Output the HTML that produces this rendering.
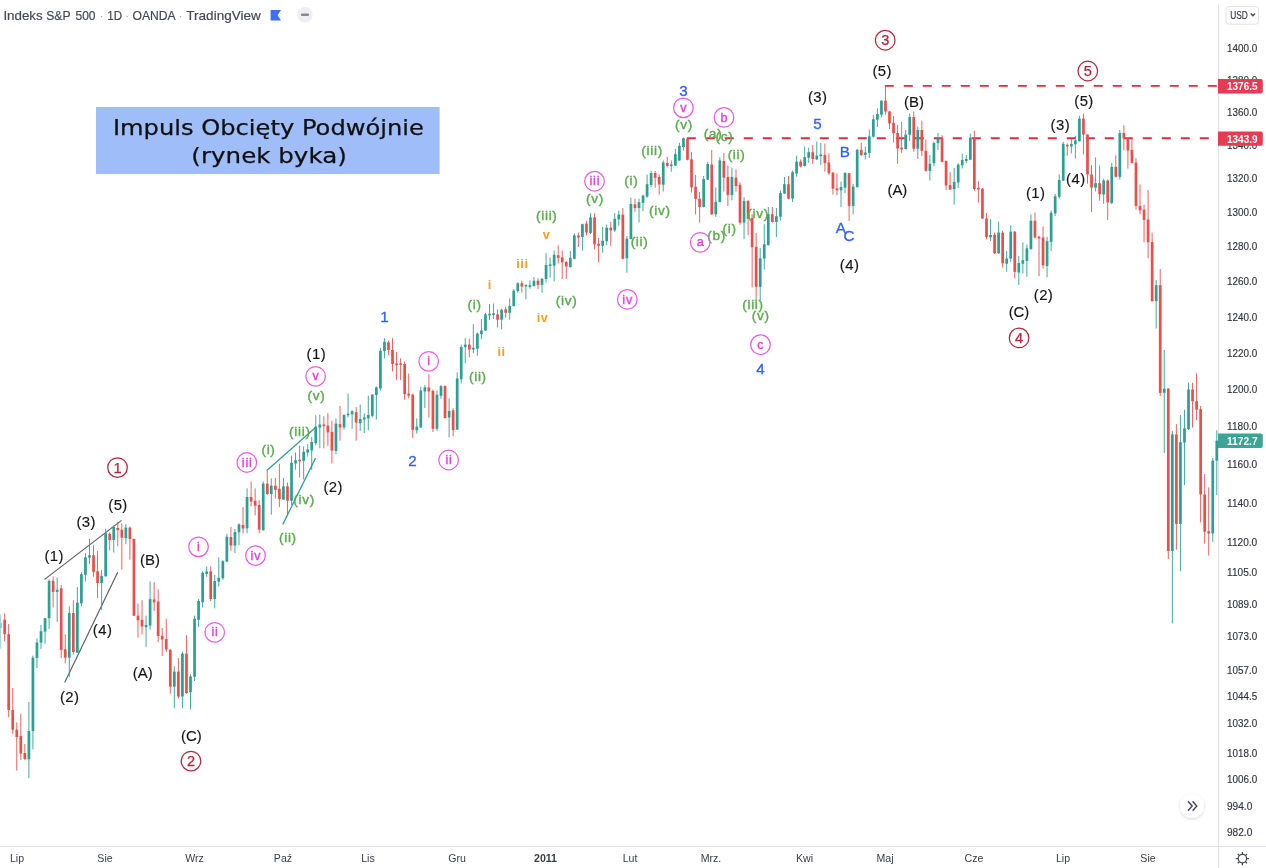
<!DOCTYPE html>
<html lang="pl"><head><meta charset="utf-8"><title>Indeks S&amp;P 500 · 1D · OANDA · TradingView</title>
<style>
html,body{margin:0;padding:0;background:#fff;}
body{width:1266px;height:868px;overflow:hidden;font-family:"Liberation Sans",sans-serif;}
svg{display:block;}
text{font-family:"Liberation Sans",sans-serif;}
.ax{font-size:11px;fill:#30333e;stroke:#30333e;stroke-width:.15px;}
.bk{font-size:14.9px;fill:#151515;stroke:#151515;stroke-width:.15px;text-anchor:middle;}
.gr{font-size:13.6px;fill:#5aab4d;stroke:#5aab4d;stroke-width:.4px;text-anchor:middle;letter-spacing:.7px;}
.mg{font-size:12.6px;fill:#e043dc;stroke:#e043dc;stroke-width:.4px;text-anchor:middle;letter-spacing:.8px;}
.dr{font-size:14.6px;fill:#b0263a;stroke:#b0263a;stroke-width:.25px;text-anchor:middle;}
.bl{font-size:15.2px;fill:#2f62ff;stroke:#2f62ff;stroke-width:.3px;text-anchor:middle;}
.or{font-size:12.8px;fill:#f79e25;font-weight:bold;text-anchor:middle;letter-spacing:.5px;}
.hd{font-size:13.5px;fill:#454854;stroke:#454854;stroke-width:.2px;}
.tm{font-size:10.6px;fill:#3a3d48;text-anchor:middle;}
.tt{font-family:"DejaVu Sans","Liberation Sans",sans-serif;font-size:22px;fill:#101010;stroke:#101010;stroke-width:.25px;text-anchor:middle;}
.pl{font-size:11px;fill:#fff;font-weight:bold;stroke:none;}
</style></head><body>
<svg width="1266" height="868" viewBox="0 0 1266 868">
<rect width="1266" height="868" fill="#fff"/>
<rect x="96" y="107" width="343.6" height="67" fill="#9fbdf9"/>
<text class="tt" x="268.4" y="134.6" textLength="311" lengthAdjust="spacingAndGlyphs">Impuls Obcięty Podwójnie</text>
<text class="tt" x="269.1" y="163.4" textLength="155.5" lengthAdjust="spacingAndGlyphs">(rynek byka)</text>
<g stroke="#5a5d68" stroke-width="1.15" fill="none"><path d="M44.6 579.4L121.5 520.4"/><path d="M64.7 682.4L117.7 572.2"/></g>
<g stroke="#2f9e90" stroke-width="1.25" fill="none"><path d="M266.8 470.5L316.1 427"/><path d="M282.8 524.4L315.5 458.1"/></g>
<g stroke="#e22b43" stroke-width="1.9" fill="none" stroke-dasharray="9 10"><path d="M686.8 138.3H1218"/><path d="M884.8 85.9H1218"/></g>
<g>
<g opacity="0.5">
<path d="M0.60 614.5V648.7" stroke="#2a9f92" stroke-width="1" opacity="0.88"/><rect x="-0.75" y="622.8" width="2.7" height="5.2" fill="#2a9f92"/>
</g>
<path d="M4.64 613.5V641.5" stroke="#ea4e4b" stroke-width="1" opacity="0.88"/><rect x="3.29" y="619.7" width="2.7" height="14.5" fill="#ea4e4b"/>
<path d="M8.68 623.9V717.2" stroke="#ea4e4b" stroke-width="1" opacity="0.88"/><rect x="7.33" y="634.2" width="2.7" height="75.8" fill="#ea4e4b"/>
<path d="M12.72 688.0V733.8" stroke="#ea4e4b" stroke-width="1" opacity="0.88"/><rect x="11.37" y="710.0" width="2.7" height="19.7" fill="#ea4e4b"/>
<path d="M16.76 722.4V770.5" stroke="#ea4e4b" stroke-width="1" opacity="0.88"/><rect x="15.41" y="729.7" width="2.7" height="7.3" fill="#ea4e4b"/>
<path d="M20.80 713.7V760.0" stroke="#ea4e4b" stroke-width="1" opacity="0.88"/><rect x="19.45" y="735.9" width="2.7" height="17.6" fill="#ea4e4b"/>
<path d="M24.84 744.0V760.0" stroke="#ea4e4b" stroke-width="1" opacity="0.88"/><rect x="23.49" y="753.0" width="2.7" height="6.0" fill="#ea4e4b"/>
<path d="M28.88 702.0V778.0" stroke="#2a9f92" stroke-width="1" opacity="0.88"/><rect x="27.53" y="731.0" width="2.7" height="28.3" fill="#2a9f92"/>
<path d="M32.92 655.6V749.4" stroke="#2a9f92" stroke-width="1" opacity="0.88"/><rect x="31.57" y="657.7" width="2.7" height="73.3" fill="#2a9f92"/>
<path d="M36.96 638.4V668.0" stroke="#2a9f92" stroke-width="1" opacity="0.88"/><rect x="35.61" y="642.5" width="2.7" height="15.5" fill="#2a9f92"/>
<path d="M41.01 625.0V648.9" stroke="#2a9f92" stroke-width="1" opacity="0.88"/><rect x="39.66" y="631.2" width="2.7" height="11.4" fill="#2a9f92"/>
<path d="M45.05 617.8V643.7" stroke="#2a9f92" stroke-width="1" opacity="0.88"/><rect x="43.70" y="618.2" width="2.7" height="13.5" fill="#2a9f92"/>
<path d="M49.09 579.4V629.2" stroke="#2a9f92" stroke-width="1" opacity="0.88"/><rect x="47.74" y="580.9" width="2.7" height="37.3" fill="#2a9f92"/>
<path d="M53.13 576.7V607.4" stroke="#ea4e4b" stroke-width="1" opacity="0.88"/><rect x="51.78" y="580.9" width="2.7" height="11.0" fill="#ea4e4b"/>
<path d="M57.17 577.4V621.9" stroke="#2a9f92" stroke-width="1" opacity="0.88"/><rect x="55.82" y="589.8" width="2.7" height="2.1" fill="#2a9f92"/>
<path d="M61.21 585.0V658.2" stroke="#ea4e4b" stroke-width="1" opacity="0.88"/><rect x="59.86" y="588.3" width="2.7" height="61.6" fill="#ea4e4b"/>
<path d="M65.25 634.4V663.4" stroke="#ea4e4b" stroke-width="1" opacity="0.88"/><rect x="63.90" y="649.3" width="2.7" height="8.3" fill="#ea4e4b"/>
<path d="M69.29 606.4V676.8" stroke="#2a9f92" stroke-width="1" opacity="0.88"/><rect x="67.94" y="613.0" width="2.7" height="44.6" fill="#2a9f92"/>
<path d="M73.33 600.2V654.5" stroke="#ea4e4b" stroke-width="1" opacity="0.88"/><rect x="71.98" y="613.0" width="2.7" height="39.0" fill="#ea4e4b"/>
<path d="M77.37 587.1V653.0" stroke="#2a9f92" stroke-width="1" opacity="0.88"/><rect x="76.02" y="602.6" width="2.7" height="50.0" fill="#2a9f92"/>
<path d="M81.41 572.2V606.4" stroke="#2a9f92" stroke-width="1" opacity="0.88"/><rect x="80.06" y="574.2" width="2.7" height="29.1" fill="#2a9f92"/>
<path d="M85.45 553.1V581.5" stroke="#2a9f92" stroke-width="1" opacity="0.88"/><rect x="84.10" y="557.3" width="2.7" height="17.4" fill="#2a9f92"/>
<path d="M89.49 538.6V563.9" stroke="#2a9f92" stroke-width="1" opacity="0.88"/><rect x="88.14" y="555.2" width="2.7" height="2.5" fill="#2a9f92"/>
<path d="M93.53 545.2V576.7" stroke="#ea4e4b" stroke-width="1" opacity="0.88"/><rect x="92.18" y="555.2" width="2.7" height="16.6" fill="#ea4e4b"/>
<path d="M97.57 551.0V598.1" stroke="#ea4e4b" stroke-width="1" opacity="0.88"/><rect x="96.22" y="571.3" width="2.7" height="11.7" fill="#ea4e4b"/>
<path d="M101.61 570.1V609.9" stroke="#2a9f92" stroke-width="1" opacity="0.88"/><rect x="100.26" y="575.9" width="2.7" height="7.1" fill="#2a9f92"/>
<path d="M105.65 528.7V576.5" stroke="#2a9f92" stroke-width="1" opacity="0.88"/><rect x="104.30" y="533.2" width="2.7" height="43.1" fill="#2a9f92"/>
<path d="M109.69 532.4V550.4" stroke="#ea4e4b" stroke-width="1" opacity="0.88"/><rect x="108.34" y="533.8" width="2.7" height="6.2" fill="#ea4e4b"/>
<path d="M113.73 525.5V552.5" stroke="#2a9f92" stroke-width="1" opacity="0.88"/><rect x="112.38" y="527.0" width="2.7" height="13.0" fill="#2a9f92"/>
<path d="M117.77 522.0V546.3" stroke="#ea4e4b" stroke-width="1" opacity="0.88"/><rect x="116.42" y="528.0" width="2.7" height="2.1" fill="#ea4e4b"/>
<path d="M121.81 523.5V569.7" stroke="#ea4e4b" stroke-width="1" opacity="0.88"/><rect x="120.46" y="529.7" width="2.7" height="7.9" fill="#ea4e4b"/>
<path d="M125.86 524.1V544.2" stroke="#2a9f92" stroke-width="1" opacity="0.88"/><rect x="124.51" y="527.6" width="2.7" height="10.4" fill="#2a9f92"/>
<path d="M129.90 526.6V559.7" stroke="#ea4e4b" stroke-width="1" opacity="0.88"/><rect x="128.55" y="527.6" width="2.7" height="11.4" fill="#ea4e4b"/>
<path d="M133.94 538.6V616.0" stroke="#ea4e4b" stroke-width="1" opacity="0.88"/><rect x="132.59" y="539.0" width="2.7" height="76.7" fill="#ea4e4b"/>
<path d="M137.98 603.7V637.5" stroke="#ea4e4b" stroke-width="1" opacity="0.88"/><rect x="136.63" y="615.7" width="2.7" height="4.6" fill="#ea4e4b"/>
<path d="M142.02 600.2V634.4" stroke="#ea4e4b" stroke-width="1" opacity="0.88"/><rect x="140.67" y="619.8" width="2.7" height="6.7" fill="#ea4e4b"/>
<path d="M146.06 615.7V646.8" stroke="#2a9f92" stroke-width="1" opacity="0.88"/><rect x="144.71" y="625.0" width="2.7" height="2.1" fill="#2a9f92"/>
<path d="M150.10 581.5V629.8" stroke="#2a9f92" stroke-width="1" opacity="0.88"/><rect x="148.75" y="599.1" width="2.7" height="26.5" fill="#2a9f92"/>
<path d="M154.14 582.1V610.9" stroke="#ea4e4b" stroke-width="1" opacity="0.88"/><rect x="152.79" y="599.4" width="2.7" height="3.0" fill="#ea4e4b"/>
<path d="M158.18 589.3V642.0" stroke="#ea4e4b" stroke-width="1" opacity="0.88"/><rect x="156.83" y="601.5" width="2.7" height="34.5" fill="#ea4e4b"/>
<path d="M162.22 628.0V656.0" stroke="#ea4e4b" stroke-width="1" opacity="0.88"/><rect x="160.87" y="635.8" width="2.7" height="3.7" fill="#ea4e4b"/>
<path d="M166.26 618.8V652.0" stroke="#ea4e4b" stroke-width="1" opacity="0.88"/><rect x="164.91" y="639.0" width="2.7" height="10.4" fill="#ea4e4b"/>
<path d="M170.30 649.0V693.8" stroke="#ea4e4b" stroke-width="1" opacity="0.88"/><rect x="168.95" y="649.8" width="2.7" height="36.9" fill="#ea4e4b"/>
<path d="M174.34 666.4V708.3" stroke="#2a9f92" stroke-width="1" opacity="0.88"/><rect x="172.99" y="671.6" width="2.7" height="15.1" fill="#2a9f92"/>
<path d="M178.38 658.0V698.5" stroke="#ea4e4b" stroke-width="1" opacity="0.88"/><rect x="177.03" y="671.6" width="2.7" height="24.9" fill="#ea4e4b"/>
<path d="M182.42 651.5V708.3" stroke="#2a9f92" stroke-width="1" opacity="0.88"/><rect x="181.07" y="653.6" width="2.7" height="42.9" fill="#2a9f92"/>
<path d="M186.46 635.3V694.0" stroke="#ea4e4b" stroke-width="1" opacity="0.88"/><rect x="185.11" y="653.6" width="2.7" height="39.4" fill="#ea4e4b"/>
<path d="M190.50 674.3V709.5" stroke="#2a9f92" stroke-width="1" opacity="0.88"/><rect x="189.15" y="676.4" width="2.7" height="15.9" fill="#2a9f92"/>
<path d="M194.54 615.6V681.0" stroke="#2a9f92" stroke-width="1" opacity="0.88"/><rect x="193.19" y="618.8" width="2.7" height="58.0" fill="#2a9f92"/>
<path d="M198.58 599.0V627.0" stroke="#2a9f92" stroke-width="1" opacity="0.88"/><rect x="197.23" y="601.0" width="2.7" height="18.8" fill="#2a9f92"/>
<path d="M202.62 571.0V607.4" stroke="#2a9f92" stroke-width="1" opacity="0.88"/><rect x="201.27" y="572.7" width="2.7" height="29.5" fill="#2a9f92"/>
<path d="M206.67 566.5V576.8" stroke="#2a9f92" stroke-width="1" opacity="0.88"/><rect x="205.32" y="571.4" width="2.7" height="2.5" fill="#2a9f92"/>
<path d="M210.71 566.3V601.0" stroke="#ea4e4b" stroke-width="1" opacity="0.88"/><rect x="209.36" y="571.4" width="2.7" height="27.6" fill="#ea4e4b"/>
<path d="M214.75 575.0V608.4" stroke="#2a9f92" stroke-width="1" opacity="0.88"/><rect x="213.40" y="581.0" width="2.7" height="18.0" fill="#2a9f92"/>
<path d="M218.79 557.3V586.6" stroke="#2a9f92" stroke-width="1" opacity="0.88"/><rect x="217.44" y="577.8" width="2.7" height="3.8" fill="#2a9f92"/>
<path d="M222.83 560.2V580.0" stroke="#2a9f92" stroke-width="1" opacity="0.88"/><rect x="221.48" y="561.2" width="2.7" height="17.0" fill="#2a9f92"/>
<path d="M226.87 533.6V562.0" stroke="#2a9f92" stroke-width="1" opacity="0.88"/><rect x="225.52" y="536.7" width="2.7" height="24.9" fill="#2a9f92"/>
<path d="M230.91 527.0V550.8" stroke="#ea4e4b" stroke-width="1" opacity="0.88"/><rect x="229.56" y="537.0" width="2.7" height="8.5" fill="#ea4e4b"/>
<path d="M234.95 528.9V553.1" stroke="#2a9f92" stroke-width="1" opacity="0.88"/><rect x="233.60" y="532.0" width="2.7" height="13.6" fill="#2a9f92"/>
<path d="M238.99 523.3V545.1" stroke="#2a9f92" stroke-width="1" opacity="0.88"/><rect x="237.64" y="524.4" width="2.7" height="7.9" fill="#2a9f92"/>
<path d="M243.03 507.0V533.4" stroke="#ea4e4b" stroke-width="1" opacity="0.88"/><rect x="241.68" y="525.0" width="2.7" height="3.5" fill="#ea4e4b"/>
<path d="M247.07 488.3V533.3" stroke="#2a9f92" stroke-width="1" opacity="0.88"/><rect x="245.72" y="497.0" width="2.7" height="31.4" fill="#2a9f92"/>
<path d="M251.11 481.5V506.4" stroke="#ea4e4b" stroke-width="1" opacity="0.88"/><rect x="249.76" y="497.0" width="2.7" height="4.6" fill="#ea4e4b"/>
<path d="M255.15 488.3V515.3" stroke="#ea4e4b" stroke-width="1" opacity="0.88"/><rect x="253.80" y="500.8" width="2.7" height="5.0" fill="#ea4e4b"/>
<path d="M259.19 500.2V533.4" stroke="#ea4e4b" stroke-width="1" opacity="0.88"/><rect x="257.84" y="505.0" width="2.7" height="24.6" fill="#ea4e4b"/>
<path d="M263.23 481.5V531.0" stroke="#2a9f92" stroke-width="1" opacity="0.88"/><rect x="261.88" y="483.6" width="2.7" height="46.4" fill="#2a9f92"/>
<path d="M267.27 470.5V495.0" stroke="#ea4e4b" stroke-width="1" opacity="0.88"/><rect x="265.92" y="483.6" width="2.7" height="10.4" fill="#ea4e4b"/>
<path d="M271.31 478.4V514.7" stroke="#2a9f92" stroke-width="1" opacity="0.88"/><rect x="269.96" y="485.6" width="2.7" height="8.4" fill="#2a9f92"/>
<path d="M275.35 478.0V498.7" stroke="#ea4e4b" stroke-width="1" opacity="0.88"/><rect x="274.00" y="485.6" width="2.7" height="4.2" fill="#ea4e4b"/>
<path d="M279.39 463.9V507.0" stroke="#ea4e4b" stroke-width="1" opacity="0.88"/><rect x="278.04" y="488.8" width="2.7" height="10.2" fill="#ea4e4b"/>
<path d="M283.44 478.0V500.0" stroke="#2a9f92" stroke-width="1" opacity="0.88"/><rect x="282.08" y="486.3" width="2.7" height="13.2" fill="#2a9f92"/>
<path d="M287.48 482.5V515.7" stroke="#ea4e4b" stroke-width="1" opacity="0.88"/><rect x="286.13" y="486.3" width="2.7" height="14.5" fill="#ea4e4b"/>
<path d="M291.52 455.6V505.0" stroke="#2a9f92" stroke-width="1" opacity="0.88"/><rect x="290.17" y="462.8" width="2.7" height="38.0" fill="#2a9f92"/>
<path d="M295.56 452.5V469.7" stroke="#2a9f92" stroke-width="1" opacity="0.88"/><rect x="294.21" y="460.2" width="2.7" height="3.3" fill="#2a9f92"/>
<path d="M299.60 445.6V477.4" stroke="#ea4e4b" stroke-width="1" opacity="0.88"/><rect x="298.25" y="459.7" width="2.7" height="1.7" fill="#ea4e4b"/>
<path d="M303.64 446.3V479.4" stroke="#2a9f92" stroke-width="1" opacity="0.88"/><rect x="302.29" y="451.9" width="2.7" height="8.9" fill="#2a9f92"/>
<path d="M307.68 444.2V456.6" stroke="#2a9f92" stroke-width="1" opacity="0.88"/><rect x="306.33" y="449.4" width="2.7" height="3.1" fill="#2a9f92"/>
<path d="M311.72 437.0V470.0" stroke="#2a9f92" stroke-width="1" opacity="0.88"/><rect x="310.37" y="442.0" width="2.7" height="8.4" fill="#2a9f92"/>
<path d="M315.76 415.2V445.2" stroke="#2a9f92" stroke-width="1" opacity="0.88"/><rect x="314.41" y="426.6" width="2.7" height="16.6" fill="#2a9f92"/>
<path d="M319.80 414.6V448.3" stroke="#2a9f92" stroke-width="1" opacity="0.88"/><rect x="318.45" y="424.5" width="2.7" height="3.1" fill="#2a9f92"/>
<path d="M323.84 416.2V448.3" stroke="#ea4e4b" stroke-width="1" opacity="0.88"/><rect x="322.49" y="424.5" width="2.7" height="1.7" fill="#ea4e4b"/>
<path d="M327.88 413.2V445.8" stroke="#ea4e4b" stroke-width="1" opacity="0.88"/><rect x="326.53" y="425.6" width="2.7" height="6.7" fill="#ea4e4b"/>
<path d="M331.92 420.5V463.6" stroke="#ea4e4b" stroke-width="1" opacity="0.88"/><rect x="330.57" y="431.9" width="2.7" height="18.6" fill="#ea4e4b"/>
<path d="M335.96 418.4V454.3" stroke="#2a9f92" stroke-width="1" opacity="0.88"/><rect x="334.61" y="423.6" width="2.7" height="27.4" fill="#2a9f92"/>
<path d="M340.00 406.0V440.6" stroke="#ea4e4b" stroke-width="1" opacity="0.88"/><rect x="338.65" y="424.2" width="2.7" height="3.2" fill="#ea4e4b"/>
<path d="M344.04 414.3V429.8" stroke="#2a9f92" stroke-width="1" opacity="0.88"/><rect x="342.69" y="415.0" width="2.7" height="12.4" fill="#2a9f92"/>
<path d="M348.08 393.6V417.4" stroke="#2a9f92" stroke-width="1" opacity="0.88"/><rect x="346.73" y="413.7" width="2.7" height="1.6" fill="#2a9f92"/>
<path d="M352.12 410.2V428.8" stroke="#2a9f92" stroke-width="1" opacity="0.88"/><rect x="350.77" y="411.2" width="2.7" height="3.1" fill="#2a9f92"/>
<path d="M356.16 407.0V440.6" stroke="#ea4e4b" stroke-width="1" opacity="0.88"/><rect x="354.81" y="412.2" width="2.7" height="10.4" fill="#ea4e4b"/>
<path d="M360.20 404.6V430.9" stroke="#2a9f92" stroke-width="1" opacity="0.88"/><rect x="358.85" y="419.0" width="2.7" height="4.2" fill="#2a9f92"/>
<path d="M364.25 413.3V433.0" stroke="#2a9f92" stroke-width="1" opacity="0.88"/><rect x="362.89" y="417.4" width="2.7" height="2.1" fill="#2a9f92"/>
<path d="M368.29 395.6V430.3" stroke="#2a9f92" stroke-width="1" opacity="0.88"/><rect x="366.94" y="415.0" width="2.7" height="3.4" fill="#2a9f92"/>
<path d="M372.33 394.2V417.4" stroke="#2a9f92" stroke-width="1" opacity="0.88"/><rect x="370.98" y="394.6" width="2.7" height="21.2" fill="#2a9f92"/>
<path d="M376.37 386.3V419.5" stroke="#2a9f92" stroke-width="1" opacity="0.88"/><rect x="375.02" y="387.4" width="2.7" height="7.6" fill="#2a9f92"/>
<path d="M380.41 348.0V390.5" stroke="#2a9f92" stroke-width="1" opacity="0.88"/><rect x="379.06" y="350.7" width="2.7" height="37.7" fill="#2a9f92"/>
<path d="M384.45 338.2V358.3" stroke="#2a9f92" stroke-width="1" opacity="0.88"/><rect x="383.10" y="341.8" width="2.7" height="9.2" fill="#2a9f92"/>
<path d="M388.49 340.7V355.2" stroke="#ea4e4b" stroke-width="1" opacity="0.88"/><rect x="387.14" y="342.4" width="2.7" height="7.6" fill="#ea4e4b"/>
<path d="M392.53 338.2V371.4" stroke="#ea4e4b" stroke-width="1" opacity="0.88"/><rect x="391.18" y="350.0" width="2.7" height="14.0" fill="#ea4e4b"/>
<path d="M396.57 352.0V379.7" stroke="#ea4e4b" stroke-width="1" opacity="0.88"/><rect x="395.22" y="363.5" width="2.7" height="1.7" fill="#ea4e4b"/>
<path d="M400.61 358.3V380.0" stroke="#ea4e4b" stroke-width="1" opacity="0.88"/><rect x="399.26" y="363.3" width="2.7" height="1.6" fill="#ea4e4b"/>
<path d="M404.65 361.5V399.8" stroke="#ea4e4b" stroke-width="1" opacity="0.88"/><rect x="403.30" y="364.0" width="2.7" height="30.2" fill="#ea4e4b"/>
<path d="M408.69 373.5V398.3" stroke="#ea4e4b" stroke-width="1" opacity="0.88"/><rect x="407.34" y="393.6" width="2.7" height="2.0" fill="#ea4e4b"/>
<path d="M412.73 393.5V438.0" stroke="#ea4e4b" stroke-width="1" opacity="0.88"/><rect x="411.38" y="394.6" width="2.7" height="35.2" fill="#ea4e4b"/>
<path d="M416.77 418.4V433.6" stroke="#2a9f92" stroke-width="1" opacity="0.88"/><rect x="415.42" y="426.7" width="2.7" height="3.6" fill="#2a9f92"/>
<path d="M420.81 386.7V428.0" stroke="#2a9f92" stroke-width="1" opacity="0.88"/><rect x="419.46" y="390.5" width="2.7" height="36.9" fill="#2a9f92"/>
<path d="M424.85 385.3V408.0" stroke="#2a9f92" stroke-width="1" opacity="0.88"/><rect x="423.50" y="387.4" width="2.7" height="4.1" fill="#2a9f92"/>
<path d="M428.89 374.3V417.4" stroke="#ea4e4b" stroke-width="1" opacity="0.88"/><rect x="427.54" y="387.4" width="2.7" height="4.1" fill="#ea4e4b"/>
<path d="M432.93 389.4V432.0" stroke="#ea4e4b" stroke-width="1" opacity="0.88"/><rect x="431.58" y="390.9" width="2.7" height="37.9" fill="#ea4e4b"/>
<path d="M436.97 390.5V431.0" stroke="#2a9f92" stroke-width="1" opacity="0.88"/><rect x="435.62" y="394.8" width="2.7" height="34.0" fill="#2a9f92"/>
<path d="M441.01 385.0V398.6" stroke="#2a9f92" stroke-width="1" opacity="0.88"/><rect x="439.66" y="386.2" width="2.7" height="9.5" fill="#2a9f92"/>
<path d="M445.06 385.4V418.5" stroke="#ea4e4b" stroke-width="1" opacity="0.88"/><rect x="443.70" y="386.0" width="2.7" height="32.0" fill="#ea4e4b"/>
<path d="M449.10 398.4V437.2" stroke="#2a9f92" stroke-width="1" opacity="0.88"/><rect x="447.75" y="410.9" width="2.7" height="6.6" fill="#2a9f92"/>
<path d="M453.14 408.2V436.2" stroke="#ea4e4b" stroke-width="1" opacity="0.88"/><rect x="451.79" y="410.3" width="2.7" height="19.7" fill="#ea4e4b"/>
<path d="M457.18 372.3V430.0" stroke="#2a9f92" stroke-width="1" opacity="0.88"/><rect x="455.83" y="378.5" width="2.7" height="51.0" fill="#2a9f92"/>
<path d="M461.22 344.6V383.3" stroke="#2a9f92" stroke-width="1" opacity="0.88"/><rect x="459.87" y="347.0" width="2.7" height="32.2" fill="#2a9f92"/>
<path d="M465.26 338.3V363.2" stroke="#2a9f92" stroke-width="1" opacity="0.88"/><rect x="463.91" y="344.6" width="2.7" height="2.4" fill="#2a9f92"/>
<path d="M469.30 338.8V357.4" stroke="#ea4e4b" stroke-width="1" opacity="0.88"/><rect x="467.95" y="344.6" width="2.7" height="4.9" fill="#ea4e4b"/>
<path d="M473.34 324.2V353.3" stroke="#2a9f92" stroke-width="1" opacity="0.88"/><rect x="471.99" y="347.9" width="2.7" height="1.6" fill="#2a9f92"/>
<path d="M477.38 332.5V355.8" stroke="#2a9f92" stroke-width="1" opacity="0.88"/><rect x="476.03" y="333.6" width="2.7" height="15.1" fill="#2a9f92"/>
<path d="M481.42 319.0V339.2" stroke="#2a9f92" stroke-width="1" opacity="0.88"/><rect x="480.07" y="330.5" width="2.7" height="3.7" fill="#2a9f92"/>
<path d="M485.46 312.8V331.0" stroke="#2a9f92" stroke-width="1" opacity="0.88"/><rect x="484.11" y="314.3" width="2.7" height="16.2" fill="#2a9f92"/>
<path d="M489.50 304.0V320.0" stroke="#2a9f92" stroke-width="1" opacity="0.88"/><rect x="488.15" y="313.7" width="2.7" height="1.6" fill="#2a9f92"/>
<path d="M493.54 303.5V319.0" stroke="#2a9f92" stroke-width="1" opacity="0.88"/><rect x="492.19" y="313.3" width="2.7" height="1.6" fill="#2a9f92"/>
<path d="M497.58 309.3V327.4" stroke="#ea4e4b" stroke-width="1" opacity="0.88"/><rect x="496.23" y="314.3" width="2.7" height="5.4" fill="#ea4e4b"/>
<path d="M501.62 308.7V329.4" stroke="#2a9f92" stroke-width="1" opacity="0.88"/><rect x="500.27" y="309.7" width="2.7" height="10.0" fill="#2a9f92"/>
<path d="M505.66 306.6V317.6" stroke="#ea4e4b" stroke-width="1" opacity="0.88"/><rect x="504.31" y="309.3" width="2.7" height="3.5" fill="#ea4e4b"/>
<path d="M509.70 298.3V319.7" stroke="#2a9f92" stroke-width="1" opacity="0.88"/><rect x="508.35" y="306.0" width="2.7" height="6.8" fill="#2a9f92"/>
<path d="M513.74 289.0V306.5" stroke="#2a9f92" stroke-width="1" opacity="0.88"/><rect x="512.39" y="290.7" width="2.7" height="15.3" fill="#2a9f92"/>
<path d="M517.78 282.4V292.7" stroke="#2a9f92" stroke-width="1" opacity="0.88"/><rect x="516.43" y="283.2" width="2.7" height="7.8" fill="#2a9f92"/>
<path d="M521.82 280.7V292.7" stroke="#ea4e4b" stroke-width="1" opacity="0.88"/><rect x="520.47" y="283.2" width="2.7" height="3.3" fill="#ea4e4b"/>
<path d="M525.87 284.5V299.4" stroke="#2a9f92" stroke-width="1" opacity="0.88"/><rect x="524.51" y="284.9" width="2.7" height="1.6" fill="#2a9f92"/>
<path d="M529.91 280.3V288.6" stroke="#2a9f92" stroke-width="1" opacity="0.88"/><rect x="528.56" y="285.3" width="2.7" height="1.7" fill="#2a9f92"/>
<path d="M533.95 277.0V286.5" stroke="#2a9f92" stroke-width="1" opacity="0.88"/><rect x="532.60" y="280.7" width="2.7" height="5.2" fill="#2a9f92"/>
<path d="M537.99 278.2V289.0" stroke="#ea4e4b" stroke-width="1" opacity="0.88"/><rect x="536.64" y="280.7" width="2.7" height="4.2" fill="#ea4e4b"/>
<path d="M542.03 278.1V292.8" stroke="#2a9f92" stroke-width="1" opacity="0.88"/><rect x="540.68" y="278.8" width="2.7" height="6.0" fill="#2a9f92"/>
<path d="M546.07 253.2V282.6" stroke="#2a9f92" stroke-width="1" opacity="0.88"/><rect x="544.72" y="265.0" width="2.7" height="14.0" fill="#2a9f92"/>
<path d="M550.11 257.4V277.5" stroke="#2a9f92" stroke-width="1" opacity="0.88"/><rect x="548.76" y="264.4" width="2.7" height="1.6" fill="#2a9f92"/>
<path d="M554.15 250.5V281.6" stroke="#2a9f92" stroke-width="1" opacity="0.88"/><rect x="552.80" y="254.7" width="2.7" height="10.9" fill="#2a9f92"/>
<path d="M558.19 245.3V263.6" stroke="#ea4e4b" stroke-width="1" opacity="0.88"/><rect x="556.84" y="255.3" width="2.7" height="2.5" fill="#ea4e4b"/>
<path d="M562.23 250.5V279.0" stroke="#ea4e4b" stroke-width="1" opacity="0.88"/><rect x="560.88" y="257.4" width="2.7" height="4.9" fill="#ea4e4b"/>
<path d="M566.27 260.9V279.0" stroke="#ea4e4b" stroke-width="1" opacity="0.88"/><rect x="564.92" y="262.0" width="2.7" height="4.5" fill="#ea4e4b"/>
<path d="M570.31 251.0V267.7" stroke="#2a9f92" stroke-width="1" opacity="0.88"/><rect x="568.96" y="257.8" width="2.7" height="9.2" fill="#2a9f92"/>
<path d="M574.35 233.3V259.4" stroke="#2a9f92" stroke-width="1" opacity="0.88"/><rect x="573.00" y="235.4" width="2.7" height="23.4" fill="#2a9f92"/>
<path d="M578.39 232.5V247.0" stroke="#ea4e4b" stroke-width="1" opacity="0.88"/><rect x="577.04" y="235.4" width="2.7" height="2.1" fill="#ea4e4b"/>
<path d="M582.43 223.6V250.5" stroke="#2a9f92" stroke-width="1" opacity="0.88"/><rect x="581.08" y="224.2" width="2.7" height="12.8" fill="#2a9f92"/>
<path d="M586.47 220.9V235.4" stroke="#ea4e4b" stroke-width="1" opacity="0.88"/><rect x="585.12" y="223.6" width="2.7" height="8.9" fill="#ea4e4b"/>
<path d="M590.51 213.2V234.0" stroke="#2a9f92" stroke-width="1" opacity="0.88"/><rect x="589.16" y="217.4" width="2.7" height="15.6" fill="#2a9f92"/>
<path d="M594.55 213.2V249.5" stroke="#ea4e4b" stroke-width="1" opacity="0.88"/><rect x="593.20" y="217.4" width="2.7" height="26.9" fill="#ea4e4b"/>
<path d="M598.59 238.0V262.3" stroke="#ea4e4b" stroke-width="1" opacity="0.88"/><rect x="597.24" y="243.7" width="2.7" height="2.1" fill="#ea4e4b"/>
<path d="M602.63 227.0V252.6" stroke="#2a9f92" stroke-width="1" opacity="0.88"/><rect x="601.28" y="240.8" width="2.7" height="5.0" fill="#2a9f92"/>
<path d="M606.67 224.6V245.0" stroke="#2a9f92" stroke-width="1" opacity="0.88"/><rect x="605.32" y="227.7" width="2.7" height="13.5" fill="#2a9f92"/>
<path d="M610.72 222.0V245.8" stroke="#ea4e4b" stroke-width="1" opacity="0.88"/><rect x="609.37" y="227.7" width="2.7" height="2.7" fill="#ea4e4b"/>
<path d="M614.76 213.2V231.9" stroke="#2a9f92" stroke-width="1" opacity="0.88"/><rect x="613.41" y="218.8" width="2.7" height="11.6" fill="#2a9f92"/>
<path d="M618.80 210.5V225.6" stroke="#2a9f92" stroke-width="1" opacity="0.88"/><rect x="617.45" y="214.7" width="2.7" height="4.7" fill="#2a9f92"/>
<path d="M622.84 208.0V259.4" stroke="#ea4e4b" stroke-width="1" opacity="0.88"/><rect x="621.49" y="214.7" width="2.7" height="44.1" fill="#ea4e4b"/>
<path d="M626.88 236.0V272.7" stroke="#2a9f92" stroke-width="1" opacity="0.88"/><rect x="625.53" y="238.7" width="2.7" height="19.5" fill="#2a9f92"/>
<path d="M630.92 197.7V239.5" stroke="#2a9f92" stroke-width="1" opacity="0.88"/><rect x="629.57" y="203.9" width="2.7" height="35.1" fill="#2a9f92"/>
<path d="M634.96 198.7V211.8" stroke="#ea4e4b" stroke-width="1" opacity="0.88"/><rect x="633.61" y="204.3" width="2.7" height="3.7" fill="#ea4e4b"/>
<path d="M639.00 198.7V222.5" stroke="#2a9f92" stroke-width="1" opacity="0.88"/><rect x="637.65" y="202.2" width="2.7" height="5.8" fill="#2a9f92"/>
<path d="M643.04 194.6V211.0" stroke="#2a9f92" stroke-width="1" opacity="0.88"/><rect x="641.69" y="195.6" width="2.7" height="7.2" fill="#2a9f92"/>
<path d="M647.08 174.7V197.8" stroke="#2a9f92" stroke-width="1" opacity="0.88"/><rect x="645.73" y="184.2" width="2.7" height="12.4" fill="#2a9f92"/>
<path d="M651.12 170.7V187.0" stroke="#2a9f92" stroke-width="1" opacity="0.88"/><rect x="649.77" y="173.0" width="2.7" height="12.0" fill="#2a9f92"/>
<path d="M655.16 171.0V187.8" stroke="#ea4e4b" stroke-width="1" opacity="0.88"/><rect x="653.81" y="173.0" width="2.7" height="4.8" fill="#ea4e4b"/>
<path d="M659.20 174.3V194.6" stroke="#ea4e4b" stroke-width="1" opacity="0.88"/><rect x="657.85" y="177.0" width="2.7" height="7.5" fill="#ea4e4b"/>
<path d="M663.24 160.4V191.5" stroke="#2a9f92" stroke-width="1" opacity="0.88"/><rect x="661.89" y="162.5" width="2.7" height="22.2" fill="#2a9f92"/>
<path d="M667.28 156.9V167.3" stroke="#ea4e4b" stroke-width="1" opacity="0.88"/><rect x="665.93" y="163.0" width="2.7" height="3.0" fill="#ea4e4b"/>
<path d="M671.32 160.4V171.8" stroke="#2a9f92" stroke-width="1" opacity="0.88"/><rect x="669.97" y="164.5" width="2.7" height="1.6" fill="#2a9f92"/>
<path d="M675.36 149.0V166.0" stroke="#2a9f92" stroke-width="1" opacity="0.88"/><rect x="674.01" y="154.2" width="2.7" height="11.4" fill="#2a9f92"/>
<path d="M679.40 142.8V161.0" stroke="#2a9f92" stroke-width="1" opacity="0.88"/><rect x="678.05" y="145.9" width="2.7" height="14.5" fill="#2a9f92"/>
<path d="M683.44 137.6V150.7" stroke="#2a9f92" stroke-width="1" opacity="0.88"/><rect x="682.09" y="138.2" width="2.7" height="8.8" fill="#2a9f92"/>
<path d="M687.49 138.2V160.4" stroke="#ea4e4b" stroke-width="1" opacity="0.88"/><rect x="686.13" y="138.7" width="2.7" height="21.1" fill="#ea4e4b"/>
<path d="M691.53 152.0V192.5" stroke="#ea4e4b" stroke-width="1" opacity="0.88"/><rect x="690.18" y="159.4" width="2.7" height="28.0" fill="#ea4e4b"/>
<path d="M695.57 175.0V214.3" stroke="#ea4e4b" stroke-width="1" opacity="0.88"/><rect x="694.22" y="186.7" width="2.7" height="12.1" fill="#ea4e4b"/>
<path d="M699.61 192.0V222.6" stroke="#ea4e4b" stroke-width="1" opacity="0.88"/><rect x="698.26" y="198.8" width="2.7" height="8.2" fill="#ea4e4b"/>
<path d="M703.65 176.0V207.5" stroke="#2a9f92" stroke-width="1" opacity="0.88"/><rect x="702.30" y="179.0" width="2.7" height="28.0" fill="#2a9f92"/>
<path d="M707.69 161.9V180.0" stroke="#2a9f92" stroke-width="1" opacity="0.88"/><rect x="706.34" y="164.0" width="2.7" height="15.7" fill="#2a9f92"/>
<path d="M711.73 150.0V215.0" stroke="#ea4e4b" stroke-width="1" opacity="0.88"/><rect x="710.38" y="164.6" width="2.7" height="49.7" fill="#ea4e4b"/>
<path d="M715.77 187.4V217.0" stroke="#2a9f92" stroke-width="1" opacity="0.88"/><rect x="714.42" y="201.9" width="2.7" height="12.4" fill="#2a9f92"/>
<path d="M719.81 157.3V202.5" stroke="#2a9f92" stroke-width="1" opacity="0.88"/><rect x="718.46" y="160.4" width="2.7" height="41.5" fill="#2a9f92"/>
<path d="M723.85 153.2V191.5" stroke="#ea4e4b" stroke-width="1" opacity="0.88"/><rect x="722.50" y="161.0" width="2.7" height="16.6" fill="#ea4e4b"/>
<path d="M727.89 165.6V206.0" stroke="#ea4e4b" stroke-width="1" opacity="0.88"/><rect x="726.54" y="177.0" width="2.7" height="18.0" fill="#ea4e4b"/>
<path d="M731.93 167.7V200.4" stroke="#2a9f92" stroke-width="1" opacity="0.88"/><rect x="730.58" y="177.0" width="2.7" height="18.0" fill="#2a9f92"/>
<path d="M735.97 169.3V191.5" stroke="#ea4e4b" stroke-width="1" opacity="0.88"/><rect x="734.62" y="177.6" width="2.7" height="8.4" fill="#ea4e4b"/>
<path d="M740.01 182.2V224.7" stroke="#ea4e4b" stroke-width="1" opacity="0.88"/><rect x="738.66" y="184.8" width="2.7" height="37.8" fill="#ea4e4b"/>
<path d="M744.05 197.2V239.1" stroke="#2a9f92" stroke-width="1" opacity="0.88"/><rect x="742.70" y="201.0" width="2.7" height="21.6" fill="#2a9f92"/>
<path d="M748.09 200.0V235.2" stroke="#ea4e4b" stroke-width="1" opacity="0.88"/><rect x="746.74" y="201.0" width="2.7" height="17.7" fill="#ea4e4b"/>
<path d="M752.13 214.2V287.4" stroke="#ea4e4b" stroke-width="1" opacity="0.88"/><rect x="750.78" y="217.9" width="2.7" height="29.3" fill="#ea4e4b"/>
<path d="M756.17 233.0V302.0" stroke="#ea4e4b" stroke-width="1" opacity="0.88"/><rect x="754.82" y="246.9" width="2.7" height="39.9" fill="#ea4e4b"/>
<path d="M760.21 247.9V300.0" stroke="#2a9f92" stroke-width="1" opacity="0.88"/><rect x="758.86" y="258.3" width="2.7" height="28.5" fill="#2a9f92"/>
<path d="M764.25 224.2V269.6" stroke="#2a9f92" stroke-width="1" opacity="0.88"/><rect x="762.90" y="244.3" width="2.7" height="14.2" fill="#2a9f92"/>
<path d="M768.29 207.0V245.5" stroke="#2a9f92" stroke-width="1" opacity="0.88"/><rect x="766.94" y="214.2" width="2.7" height="30.8" fill="#2a9f92"/>
<path d="M772.34 207.0V222.5" stroke="#ea4e4b" stroke-width="1" opacity="0.88"/><rect x="770.99" y="214.2" width="2.7" height="7.8" fill="#ea4e4b"/>
<path d="M776.38 208.0V237.0" stroke="#2a9f92" stroke-width="1" opacity="0.88"/><rect x="775.03" y="216.3" width="2.7" height="5.7" fill="#2a9f92"/>
<path d="M780.42 190.4V220.5" stroke="#2a9f92" stroke-width="1" opacity="0.88"/><rect x="779.07" y="193.0" width="2.7" height="23.7" fill="#2a9f92"/>
<path d="M784.46 177.0V194.0" stroke="#2a9f92" stroke-width="1" opacity="0.88"/><rect x="783.11" y="184.2" width="2.7" height="9.3" fill="#2a9f92"/>
<path d="M788.50 176.0V199.3" stroke="#ea4e4b" stroke-width="1" opacity="0.88"/><rect x="787.15" y="184.2" width="2.7" height="14.5" fill="#ea4e4b"/>
<path d="M792.54 170.7V202.0" stroke="#2a9f92" stroke-width="1" opacity="0.88"/><rect x="791.19" y="172.2" width="2.7" height="26.4" fill="#2a9f92"/>
<path d="M796.58 155.6V176.6" stroke="#2a9f92" stroke-width="1" opacity="0.88"/><rect x="795.23" y="161.6" width="2.7" height="11.8" fill="#2a9f92"/>
<path d="M800.62 159.4V167.5" stroke="#ea4e4b" stroke-width="1" opacity="0.88"/><rect x="799.27" y="161.6" width="2.7" height="4.9" fill="#ea4e4b"/>
<path d="M804.66 146.3V166.5" stroke="#2a9f92" stroke-width="1" opacity="0.88"/><rect x="803.31" y="157.2" width="2.7" height="8.8" fill="#2a9f92"/>
<path d="M808.70 147.7V162.8" stroke="#2a9f92" stroke-width="1" opacity="0.88"/><rect x="807.35" y="152.2" width="2.7" height="5.5" fill="#2a9f92"/>
<path d="M812.74 145.0V163.8" stroke="#ea4e4b" stroke-width="1" opacity="0.88"/><rect x="811.39" y="152.2" width="2.7" height="6.8" fill="#ea4e4b"/>
<path d="M816.78 141.5V160.0" stroke="#2a9f92" stroke-width="1" opacity="0.88"/><rect x="815.43" y="155.6" width="2.7" height="3.8" fill="#2a9f92"/>
<path d="M820.82 143.0V165.0" stroke="#2a9f92" stroke-width="1" opacity="0.88"/><rect x="819.47" y="154.5" width="2.7" height="1.6" fill="#2a9f92"/>
<path d="M824.86 143.6V171.7" stroke="#ea4e4b" stroke-width="1" opacity="0.88"/><rect x="823.51" y="154.9" width="2.7" height="8.2" fill="#ea4e4b"/>
<path d="M828.90 153.3V174.8" stroke="#ea4e4b" stroke-width="1" opacity="0.88"/><rect x="827.55" y="162.5" width="2.7" height="10.7" fill="#ea4e4b"/>
<path d="M832.94 172.0V194.5" stroke="#ea4e4b" stroke-width="1" opacity="0.88"/><rect x="831.59" y="172.7" width="2.7" height="16.0" fill="#ea4e4b"/>
<path d="M836.98 173.4V195.3" stroke="#ea4e4b" stroke-width="1" opacity="0.88"/><rect x="835.63" y="188.4" width="2.7" height="1.9" fill="#ea4e4b"/>
<path d="M841.02 181.7V207.1" stroke="#2a9f92" stroke-width="1" opacity="0.88"/><rect x="839.67" y="187.0" width="2.7" height="3.3" fill="#2a9f92"/>
<path d="M845.06 172.2V193.2" stroke="#2a9f92" stroke-width="1" opacity="0.88"/><rect x="843.71" y="172.9" width="2.7" height="14.8" fill="#2a9f92"/>
<path d="M849.11 172.8V220.9" stroke="#ea4e4b" stroke-width="1" opacity="0.88"/><rect x="847.75" y="173.2" width="2.7" height="32.7" fill="#ea4e4b"/>
<path d="M853.15 183.9V214.4" stroke="#2a9f92" stroke-width="1" opacity="0.88"/><rect x="851.80" y="186.7" width="2.7" height="19.2" fill="#2a9f92"/>
<path d="M857.19 148.8V187.6" stroke="#2a9f92" stroke-width="1" opacity="0.88"/><rect x="855.84" y="149.8" width="2.7" height="37.3" fill="#2a9f92"/>
<path d="M861.23 142.5V156.0" stroke="#ea4e4b" stroke-width="1" opacity="0.88"/><rect x="859.88" y="149.8" width="2.7" height="5.2" fill="#ea4e4b"/>
<path d="M865.27 146.7V159.5" stroke="#2a9f92" stroke-width="1" opacity="0.88"/><rect x="863.92" y="152.5" width="2.7" height="2.5" fill="#2a9f92"/>
<path d="M869.31 129.7V158.0" stroke="#2a9f92" stroke-width="1" opacity="0.88"/><rect x="867.96" y="136.3" width="2.7" height="16.6" fill="#2a9f92"/>
<path d="M873.35 115.2V137.3" stroke="#2a9f92" stroke-width="1" opacity="0.88"/><rect x="872.00" y="119.3" width="2.7" height="17.4" fill="#2a9f92"/>
<path d="M877.39 108.3V127.0" stroke="#2a9f92" stroke-width="1" opacity="0.88"/><rect x="876.04" y="114.0" width="2.7" height="5.7" fill="#2a9f92"/>
<path d="M881.43 100.0V117.3" stroke="#2a9f92" stroke-width="1" opacity="0.88"/><rect x="880.08" y="100.7" width="2.7" height="13.9" fill="#2a9f92"/>
<path d="M885.47 86.2V114.6" stroke="#ea4e4b" stroke-width="1" opacity="0.88"/><rect x="884.12" y="100.7" width="2.7" height="10.8" fill="#ea4e4b"/>
<path d="M889.51 111.0V129.0" stroke="#ea4e4b" stroke-width="1" opacity="0.88"/><rect x="888.16" y="111.5" width="2.7" height="12.0" fill="#ea4e4b"/>
<path d="M893.55 116.0V142.5" stroke="#ea4e4b" stroke-width="1" opacity="0.88"/><rect x="892.20" y="122.8" width="2.7" height="10.4" fill="#ea4e4b"/>
<path d="M897.59 125.0V163.7" stroke="#ea4e4b" stroke-width="1" opacity="0.88"/><rect x="896.24" y="133.0" width="2.7" height="15.5" fill="#ea4e4b"/>
<path d="M901.63 121.8V152.8" stroke="#ea4e4b" stroke-width="1" opacity="0.88"/><rect x="900.28" y="147.7" width="2.7" height="1.7" fill="#ea4e4b"/>
<path d="M905.67 130.0V149.6" stroke="#2a9f92" stroke-width="1" opacity="0.88"/><rect x="904.32" y="134.5" width="2.7" height="14.5" fill="#2a9f92"/>
<path d="M909.71 113.5V141.0" stroke="#2a9f92" stroke-width="1" opacity="0.88"/><rect x="908.36" y="117.0" width="2.7" height="17.8" fill="#2a9f92"/>
<path d="M913.75 111.4V151.8" stroke="#ea4e4b" stroke-width="1" opacity="0.88"/><rect x="912.40" y="117.0" width="2.7" height="31.7" fill="#ea4e4b"/>
<path d="M917.79 126.5V159.0" stroke="#2a9f92" stroke-width="1" opacity="0.88"/><rect x="916.44" y="130.0" width="2.7" height="18.7" fill="#2a9f92"/>
<path d="M921.83 120.7V156.0" stroke="#ea4e4b" stroke-width="1" opacity="0.88"/><rect x="920.48" y="130.0" width="2.7" height="20.8" fill="#ea4e4b"/>
<path d="M925.87 139.4V171.5" stroke="#ea4e4b" stroke-width="1" opacity="0.88"/><rect x="924.52" y="150.8" width="2.7" height="20.1" fill="#ea4e4b"/>
<path d="M929.91 155.0V180.4" stroke="#2a9f92" stroke-width="1" opacity="0.88"/><rect x="928.56" y="163.8" width="2.7" height="7.1" fill="#2a9f92"/>
<path d="M933.96 141.5V166.3" stroke="#2a9f92" stroke-width="1" opacity="0.88"/><rect x="932.61" y="143.0" width="2.7" height="20.2" fill="#2a9f92"/>
<path d="M938.00 132.7V150.0" stroke="#2a9f92" stroke-width="1" opacity="0.88"/><rect x="936.65" y="138.3" width="2.7" height="4.7" fill="#2a9f92"/>
<path d="M942.04 135.2V162.3" stroke="#ea4e4b" stroke-width="1" opacity="0.88"/><rect x="940.69" y="138.3" width="2.7" height="23.5" fill="#ea4e4b"/>
<path d="M946.08 160.5V190.0" stroke="#ea4e4b" stroke-width="1" opacity="0.88"/><rect x="944.73" y="161.0" width="2.7" height="24.4" fill="#ea4e4b"/>
<path d="M950.12 172.0V190.0" stroke="#ea4e4b" stroke-width="1" opacity="0.88"/><rect x="948.77" y="185.0" width="2.7" height="4.5" fill="#ea4e4b"/>
<path d="M954.16 168.0V204.7" stroke="#2a9f92" stroke-width="1" opacity="0.88"/><rect x="952.81" y="181.9" width="2.7" height="7.1" fill="#2a9f92"/>
<path d="M958.20 163.2V188.0" stroke="#2a9f92" stroke-width="1" opacity="0.88"/><rect x="956.85" y="164.7" width="2.7" height="17.8" fill="#2a9f92"/>
<path d="M962.24 153.5V168.4" stroke="#2a9f92" stroke-width="1" opacity="0.88"/><rect x="960.89" y="160.0" width="2.7" height="5.3" fill="#2a9f92"/>
<path d="M966.28 155.0V163.2" stroke="#2a9f92" stroke-width="1" opacity="0.88"/><rect x="964.93" y="159.0" width="2.7" height="2.0" fill="#2a9f92"/>
<path d="M970.32 133.6V160.2" stroke="#2a9f92" stroke-width="1" opacity="0.88"/><rect x="968.97" y="137.7" width="2.7" height="22.0" fill="#2a9f92"/>
<path d="M974.36 130.7V190.8" stroke="#ea4e4b" stroke-width="1" opacity="0.88"/><rect x="973.01" y="137.7" width="2.7" height="51.3" fill="#ea4e4b"/>
<path d="M978.40 181.2V202.6" stroke="#ea4e4b" stroke-width="1" opacity="0.88"/><rect x="977.05" y="187.9" width="2.7" height="1.6" fill="#ea4e4b"/>
<path d="M982.44 188.0V219.0" stroke="#ea4e4b" stroke-width="1" opacity="0.88"/><rect x="981.09" y="188.7" width="2.7" height="29.8" fill="#ea4e4b"/>
<path d="M986.48 213.0V239.3" stroke="#ea4e4b" stroke-width="1" opacity="0.88"/><rect x="985.13" y="218.5" width="2.7" height="18.7" fill="#ea4e4b"/>
<path d="M990.52 219.2V241.0" stroke="#2a9f92" stroke-width="1" opacity="0.88"/><rect x="989.17" y="235.0" width="2.7" height="2.2" fill="#2a9f92"/>
<path d="M994.56 232.6V254.0" stroke="#ea4e4b" stroke-width="1" opacity="0.88"/><rect x="993.21" y="234.7" width="2.7" height="18.6" fill="#ea4e4b"/>
<path d="M998.60 221.7V254.0" stroke="#2a9f92" stroke-width="1" opacity="0.88"/><rect x="997.25" y="232.5" width="2.7" height="20.8" fill="#2a9f92"/>
<path d="M1002.64 230.6V267.5" stroke="#ea4e4b" stroke-width="1" opacity="0.88"/><rect x="1001.29" y="232.7" width="2.7" height="30.6" fill="#ea4e4b"/>
<path d="M1006.68 251.0V271.9" stroke="#2a9f92" stroke-width="1" opacity="0.88"/><rect x="1005.33" y="258.6" width="2.7" height="5.1" fill="#2a9f92"/>
<path d="M1010.72 225.3V262.0" stroke="#2a9f92" stroke-width="1" opacity="0.88"/><rect x="1009.37" y="231.7" width="2.7" height="26.9" fill="#2a9f92"/>
<path d="M1014.77 231.0V278.4" stroke="#ea4e4b" stroke-width="1" opacity="0.88"/><rect x="1013.42" y="231.7" width="2.7" height="40.2" fill="#ea4e4b"/>
<path d="M1018.81 255.9V285.0" stroke="#2a9f92" stroke-width="1" opacity="0.88"/><rect x="1017.46" y="263.0" width="2.7" height="9.5" fill="#2a9f92"/>
<path d="M1022.85 242.3V273.4" stroke="#2a9f92" stroke-width="1" opacity="0.88"/><rect x="1021.50" y="260.2" width="2.7" height="3.5" fill="#2a9f92"/>
<path d="M1026.89 244.5V276.9" stroke="#2a9f92" stroke-width="1" opacity="0.88"/><rect x="1025.54" y="248.4" width="2.7" height="12.5" fill="#2a9f92"/>
<path d="M1030.93 214.3V250.0" stroke="#2a9f92" stroke-width="1" opacity="0.88"/><rect x="1029.58" y="220.8" width="2.7" height="28.1" fill="#2a9f92"/>
<path d="M1034.97 212.7V238.4" stroke="#ea4e4b" stroke-width="1" opacity="0.88"/><rect x="1033.62" y="220.8" width="2.7" height="16.7" fill="#ea4e4b"/>
<path d="M1039.01 235.7V276.2" stroke="#ea4e4b" stroke-width="1" opacity="0.88"/><rect x="1037.66" y="236.8" width="2.7" height="1.6" fill="#ea4e4b"/>
<path d="M1043.05 226.5V268.6" stroke="#ea4e4b" stroke-width="1" opacity="0.88"/><rect x="1041.70" y="237.5" width="2.7" height="27.8" fill="#ea4e4b"/>
<path d="M1047.09 236.8V277.3" stroke="#2a9f92" stroke-width="1" opacity="0.88"/><rect x="1045.74" y="241.2" width="2.7" height="24.8" fill="#2a9f92"/>
<path d="M1051.13 210.6V251.0" stroke="#2a9f92" stroke-width="1" opacity="0.88"/><rect x="1049.78" y="212.7" width="2.7" height="29.2" fill="#2a9f92"/>
<path d="M1055.17 194.0V216.0" stroke="#2a9f92" stroke-width="1" opacity="0.88"/><rect x="1053.82" y="196.3" width="2.7" height="17.1" fill="#2a9f92"/>
<path d="M1059.21 174.4V198.5" stroke="#2a9f92" stroke-width="1" opacity="0.88"/><rect x="1057.86" y="180.0" width="2.7" height="16.8" fill="#2a9f92"/>
<path d="M1063.25 142.0V181.0" stroke="#2a9f92" stroke-width="1" opacity="0.88"/><rect x="1061.90" y="143.8" width="2.7" height="36.8" fill="#2a9f92"/>
<path d="M1067.29 143.3V155.8" stroke="#ea4e4b" stroke-width="1" opacity="0.88"/><rect x="1065.94" y="144.8" width="2.7" height="1.6" fill="#ea4e4b"/>
<path d="M1071.33 139.0V153.6" stroke="#2a9f92" stroke-width="1" opacity="0.88"/><rect x="1069.98" y="143.8" width="2.7" height="2.6" fill="#2a9f92"/>
<path d="M1075.37 136.0V158.7" stroke="#2a9f92" stroke-width="1" opacity="0.88"/><rect x="1074.02" y="140.5" width="2.7" height="3.7" fill="#2a9f92"/>
<path d="M1079.41 115.8V141.6" stroke="#2a9f92" stroke-width="1" opacity="0.88"/><rect x="1078.06" y="118.6" width="2.7" height="22.6" fill="#2a9f92"/>
<path d="M1083.45 113.6V154.3" stroke="#ea4e4b" stroke-width="1" opacity="0.88"/><rect x="1082.10" y="118.6" width="2.7" height="16.0" fill="#ea4e4b"/>
<path d="M1087.49 134.0V183.6" stroke="#ea4e4b" stroke-width="1" opacity="0.88"/><rect x="1086.14" y="134.6" width="2.7" height="39.8" fill="#ea4e4b"/>
<path d="M1091.53 165.2V212.0" stroke="#ea4e4b" stroke-width="1" opacity="0.88"/><rect x="1090.18" y="174.4" width="2.7" height="13.2" fill="#ea4e4b"/>
<path d="M1095.58 157.4V191.5" stroke="#2a9f92" stroke-width="1" opacity="0.88"/><rect x="1094.23" y="183.2" width="2.7" height="4.4" fill="#2a9f92"/>
<path d="M1099.62 165.5V200.8" stroke="#ea4e4b" stroke-width="1" opacity="0.88"/><rect x="1098.27" y="183.2" width="2.7" height="11.0" fill="#ea4e4b"/>
<path d="M1103.66 178.7V203.8" stroke="#2a9f92" stroke-width="1" opacity="0.88"/><rect x="1102.31" y="180.5" width="2.7" height="13.9" fill="#2a9f92"/>
<path d="M1107.70 179.5V220.0" stroke="#ea4e4b" stroke-width="1" opacity="0.88"/><rect x="1106.35" y="180.5" width="2.7" height="21.9" fill="#ea4e4b"/>
<path d="M1111.74 163.0V204.4" stroke="#2a9f92" stroke-width="1" opacity="0.88"/><rect x="1110.39" y="166.9" width="2.7" height="36.1" fill="#2a9f92"/>
<path d="M1115.78 155.5V177.4" stroke="#ea4e4b" stroke-width="1" opacity="0.88"/><rect x="1114.43" y="166.9" width="2.7" height="9.9" fill="#ea4e4b"/>
<path d="M1119.82 130.0V179.6" stroke="#2a9f92" stroke-width="1" opacity="0.88"/><rect x="1118.47" y="133.0" width="2.7" height="43.8" fill="#2a9f92"/>
<path d="M1123.86 125.3V150.5" stroke="#ea4e4b" stroke-width="1" opacity="0.88"/><rect x="1122.51" y="133.0" width="2.7" height="5.5" fill="#ea4e4b"/>
<path d="M1127.90 137.4V168.7" stroke="#ea4e4b" stroke-width="1" opacity="0.88"/><rect x="1126.55" y="138.0" width="2.7" height="12.5" fill="#ea4e4b"/>
<path d="M1131.94 138.0V163.6" stroke="#ea4e4b" stroke-width="1" opacity="0.88"/><rect x="1130.59" y="149.8" width="2.7" height="13.2" fill="#ea4e4b"/>
<path d="M1135.98 158.2V209.6" stroke="#ea4e4b" stroke-width="1" opacity="0.88"/><rect x="1134.63" y="162.5" width="2.7" height="43.4" fill="#ea4e4b"/>
<path d="M1140.02 184.4V214.0" stroke="#ea4e4b" stroke-width="1" opacity="0.88"/><rect x="1138.67" y="205.9" width="2.7" height="4.4" fill="#ea4e4b"/>
<path d="M1144.06 204.6V242.4" stroke="#ea4e4b" stroke-width="1" opacity="0.88"/><rect x="1142.71" y="209.6" width="2.7" height="10.3" fill="#ea4e4b"/>
<path d="M1148.10 189.9V258.2" stroke="#ea4e4b" stroke-width="1" opacity="0.88"/><rect x="1146.75" y="219.5" width="2.7" height="22.7" fill="#ea4e4b"/>
<path d="M1152.14 232.6V301.8" stroke="#ea4e4b" stroke-width="1" opacity="0.88"/><rect x="1150.79" y="242.0" width="2.7" height="59.1" fill="#ea4e4b"/>
<path d="M1156.18 280.0V328.5" stroke="#2a9f92" stroke-width="1" opacity="0.88"/><rect x="1154.83" y="285.2" width="2.7" height="15.9" fill="#2a9f92"/>
<path d="M1160.22 269.0V396.1" stroke="#ea4e4b" stroke-width="1" opacity="0.88"/><rect x="1158.87" y="285.2" width="2.7" height="107.7" fill="#ea4e4b"/>
<path d="M1164.26 350.0V453.0" stroke="#2a9f92" stroke-width="1" opacity="0.88"/><rect x="1162.91" y="388.7" width="2.7" height="4.1" fill="#2a9f92"/>
<path d="M1168.30 388.0V559.0" stroke="#ea4e4b" stroke-width="1" opacity="0.88"/><rect x="1166.95" y="388.7" width="2.7" height="162.3" fill="#ea4e4b"/>
<path d="M1172.34 431.0V623.4" stroke="#2a9f92" stroke-width="1" opacity="0.88"/><rect x="1170.99" y="434.4" width="2.7" height="116.6" fill="#2a9f92"/>
<path d="M1176.39 424.2V549.7" stroke="#ea4e4b" stroke-width="1" opacity="0.88"/><rect x="1175.04" y="434.4" width="2.7" height="89.5" fill="#ea4e4b"/>
<path d="M1180.43 415.0V571.2" stroke="#2a9f92" stroke-width="1" opacity="0.88"/><rect x="1179.08" y="442.2" width="2.7" height="81.7" fill="#2a9f92"/>
<path d="M1184.47 409.7V485.0" stroke="#2a9f92" stroke-width="1" opacity="0.88"/><rect x="1183.12" y="428.4" width="2.7" height="14.2" fill="#2a9f92"/>
<path d="M1188.51 382.7V430.0" stroke="#2a9f92" stroke-width="1" opacity="0.88"/><rect x="1187.16" y="389.5" width="2.7" height="39.7" fill="#2a9f92"/>
<path d="M1192.55 382.7V427.7" stroke="#ea4e4b" stroke-width="1" opacity="0.88"/><rect x="1191.20" y="389.5" width="2.7" height="11.7" fill="#ea4e4b"/>
<path d="M1196.59 373.3V420.2" stroke="#ea4e4b" stroke-width="1" opacity="0.88"/><rect x="1195.24" y="401.2" width="2.7" height="8.5" fill="#ea4e4b"/>
<path d="M1200.63 406.0V522.4" stroke="#ea4e4b" stroke-width="1" opacity="0.88"/><rect x="1199.28" y="409.2" width="2.7" height="85.2" fill="#ea4e4b"/>
<path d="M1204.67 474.0V543.6" stroke="#ea4e4b" stroke-width="1" opacity="0.88"/><rect x="1203.32" y="494.4" width="2.7" height="37.2" fill="#ea4e4b"/>
<path d="M1208.71 487.4V555.6" stroke="#ea4e4b" stroke-width="1" opacity="0.88"/><rect x="1207.36" y="531.2" width="2.7" height="2.3" fill="#ea4e4b"/>
<path d="M1212.75 458.0V541.8" stroke="#2a9f92" stroke-width="1" opacity="0.88"/><rect x="1211.40" y="460.6" width="2.7" height="72.9" fill="#2a9f92"/>
<path d="M1216.79 430.2V495.0" stroke="#2a9f92" stroke-width="1" opacity="0.88"/><rect x="1215.44" y="440.7" width="2.7" height="19.9" fill="#2a9f92"/>
</g>
<text class="bk" style="letter-spacing:.45px" x="54.2" y="561.4">(1)</text>
<text class="bk" style="letter-spacing:.45px" x="86.2" y="526.9">(3)</text>
<text class="bk" style="letter-spacing:.45px" x="118.0" y="510.4">(5)</text>
<text class="bk" style="letter-spacing:.45px" x="102.6" y="634.7">(4)</text>
<text class="bk" style="letter-spacing:.45px" x="69.7" y="701.6">(2)</text>
<text class="bk" x="150.0" y="564.7">(B)</text>
<text class="bk" x="142.7" y="677.9">(A)</text>
<text class="bk" x="191.4" y="740.6">(C)</text>
<text class="bk" style="letter-spacing:.45px" x="333.2" y="491.9">(2)</text>
<text class="bk" style="letter-spacing:.45px" x="316.3" y="359.2">(1)</text>
<text class="bk" style="letter-spacing:.45px" x="817.7" y="101.9">(3)</text>
<text class="bk" style="letter-spacing:.45px" x="882.2" y="76.4">(5)</text>
<text class="bk" x="914.0" y="106.9">(B)</text>
<text class="bk" x="897.4" y="194.9">(A)</text>
<text class="bk" style="letter-spacing:.45px" x="849.6" y="269.9">(4)</text>
<text class="bk" x="1019.0" y="316.6">(C)</text>
<text class="bk" style="letter-spacing:.45px" x="1035.7" y="198.4">(1)</text>
<text class="bk" style="letter-spacing:.45px" x="1043.5" y="300.3">(2)</text>
<text class="bk" style="letter-spacing:.45px" x="1060.4" y="130.2">(3)</text>
<text class="bk" style="letter-spacing:.45px" x="1075.9" y="183.6">(4)</text>
<text class="bk" style="letter-spacing:.45px" x="1084.0" y="106.1">(5)</text>
<text class="gr" x="268.5" y="453.7">(i)</text>
<text class="gr" x="287.9" y="542.0">(ii)</text>
<text class="gr" x="299.9" y="435.7">(iii)</text>
<text class="gr" x="304.1" y="503.5">(iv)</text>
<text class="gr" x="316.5" y="399.8">(v)</text>
<text class="gr" x="474.7" y="308.7">(i)</text>
<text class="gr" x="477.9" y="380.5">(ii)</text>
<text class="gr" x="546.8" y="220.0">(iii)</text>
<text class="gr" x="566.6" y="304.7">(iv)</text>
<text class="gr" x="595.0" y="203.1">(v)</text>
<text class="gr" x="631.4" y="184.8">(i)</text>
<text class="gr" x="639.6" y="246.1">(ii)</text>
<text class="gr" x="652.1" y="154.7">(iii)</text>
<text class="gr" x="659.9" y="214.8">(iv)</text>
<text class="gr" x="684.0" y="129.0">(v)</text>
<text class="gr" x="713.0" y="137.6">(a)</text>
<text class="gr" x="716.6" y="239.9">(b)</text>
<text class="gr" x="724.6" y="140.5">(c)</text>
<text class="gr" x="729.6" y="233.2">(i)</text>
<text class="gr" x="736.6" y="159.0">(ii)</text>
<text class="gr" x="753.0" y="308.6">(iii)</text>
<text class="gr" x="758.1" y="218.3">(iv)</text>
<text class="gr" x="760.8" y="320.4">(v)</text>
<circle cx="117.5" cy="467.6" r="9.8" fill="none" stroke="#b0263a" stroke-width="1.25"/>
<text class="dr" x="117.5" y="472.8">1</text>
<circle cx="191" cy="761.0999999999999" r="9.8" fill="none" stroke="#b0263a" stroke-width="1.25"/>
<text class="dr" x="191.0" y="766.3">2</text>
<circle cx="885.2" cy="40.199999999999996" r="9.8" fill="none" stroke="#b0263a" stroke-width="1.25"/>
<text class="dr" x="885.2" y="45.4">3</text>
<circle cx="1019.1" cy="337.90000000000003" r="9.8" fill="none" stroke="#b0263a" stroke-width="1.25"/>
<text class="dr" x="1019.1" y="343.1">4</text>
<circle cx="1087.8" cy="71.0" r="9.8" fill="none" stroke="#b0263a" stroke-width="1.25"/>
<text class="dr" x="1087.8" y="76.2">5</text>
<circle cx="198.5" cy="546.8" r="9.8" fill="none" stroke="#e55de2" stroke-width="1.25"/>
<text class="mg" x="198.9" y="550.9">i</text>
<circle cx="214.7" cy="632.3" r="9.8" fill="none" stroke="#e55de2" stroke-width="1.25"/>
<text class="mg" x="215.1" y="636.4">ii</text>
<circle cx="246.8" cy="462.5" r="9.8" fill="none" stroke="#e55de2" stroke-width="1.25"/>
<text class="mg" x="247.2" y="466.6">iii</text>
<circle cx="255.5" cy="555.6" r="9.8" fill="none" stroke="#e55de2" stroke-width="1.25"/>
<text class="mg" x="255.9" y="559.7">iv</text>
<circle cx="315.6" cy="376.3" r="9.8" fill="none" stroke="#e55de2" stroke-width="1.25"/>
<text class="mg" x="316.0" y="380.4">v</text>
<circle cx="428.7" cy="361.3" r="9.8" fill="none" stroke="#e55de2" stroke-width="1.25"/>
<text class="mg" x="429.1" y="365.4">i</text>
<circle cx="448.6" cy="460" r="9.8" fill="none" stroke="#e55de2" stroke-width="1.25"/>
<text class="mg" x="449.0" y="464.1">ii</text>
<circle cx="594.5" cy="181.2" r="9.8" fill="none" stroke="#e55de2" stroke-width="1.25"/>
<text class="mg" x="594.9" y="185.3">iii</text>
<circle cx="627.3" cy="299.4" r="9.8" fill="none" stroke="#e55de2" stroke-width="1.25"/>
<text class="mg" x="627.7" y="303.5">iv</text>
<circle cx="683.4" cy="107.8" r="9.8" fill="none" stroke="#e55de2" stroke-width="1.25"/>
<text class="mg" x="683.8" y="111.9">v</text>
<circle cx="700.2" cy="242.3" r="9.8" fill="none" stroke="#e55de2" stroke-width="1.25"/>
<text class="mg" x="700.6" y="246.4">a</text>
<circle cx="724" cy="117.4" r="9.8" fill="none" stroke="#e55de2" stroke-width="1.25"/>
<text class="mg" x="724.4" y="121.5">b</text>
<circle cx="760.5" cy="344.7" r="9.8" fill="none" stroke="#e55de2" stroke-width="1.25"/>
<text class="mg" x="760.9" y="348.8">c</text>
<text class="or" x="489.9" y="289.1">i</text>
<text class="or" x="501.6" y="355.7">ii</text>
<text class="or" x="522.4" y="267.8">iii</text>
<text class="or" x="542.5" y="322.3">iv</text>
<text class="or" x="546.5" y="239.4">v</text>
<text class="bl" x="384.6" y="321.5">1</text>
<text class="bl" x="412.6" y="466.1">2</text>
<text class="bl" x="683.4" y="96.0">3</text>
<text class="bl" x="760.5" y="374.2">4</text>
<text class="bl" x="817.5" y="128.8">5</text>
<text class="bl" x="840.9" y="232.5">A</text>
<text class="bl" x="844.8" y="157.1">B</text>
<text class="bl" x="848.9" y="240.7">C</text>
<rect x="1219" y="0" width="47" height="846" fill="#fff"/>
<line x1="1218.5" y1="4" x2="1218.5" y2="868" stroke="#e0e2e7" stroke-width="1"/>
<line x1="0" y1="846.5" x2="1266" y2="846.5" stroke="#e0e2e7" stroke-width="1"/>
<g class="ax">
<text x="1227" y="52.2" textLength="30.2" lengthAdjust="spacingAndGlyphs">1400.0</text>
<text x="1227" y="84.0" textLength="30.2" lengthAdjust="spacingAndGlyphs">1380.0</text>
<text x="1227" y="116.3" textLength="30.2" lengthAdjust="spacingAndGlyphs">1360.0</text>
<text x="1227" y="149.1" textLength="30.2" lengthAdjust="spacingAndGlyphs">1340.0</text>
<text x="1227" y="182.3" textLength="30.2" lengthAdjust="spacingAndGlyphs">1320.0</text>
<text x="1227" y="216.1" textLength="30.2" lengthAdjust="spacingAndGlyphs">1300.0</text>
<text x="1227" y="250.4" textLength="30.2" lengthAdjust="spacingAndGlyphs">1280.0</text>
<text x="1227" y="285.2" textLength="30.2" lengthAdjust="spacingAndGlyphs">1260.0</text>
<text x="1227" y="320.6" textLength="30.2" lengthAdjust="spacingAndGlyphs">1240.0</text>
<text x="1227" y="356.5" textLength="30.2" lengthAdjust="spacingAndGlyphs">1220.0</text>
<text x="1227" y="393.1" textLength="30.2" lengthAdjust="spacingAndGlyphs">1200.0</text>
<text x="1227" y="430.2" textLength="30.2" lengthAdjust="spacingAndGlyphs">1180.0</text>
<text x="1227" y="468.0" textLength="30.2" lengthAdjust="spacingAndGlyphs">1160.0</text>
<text x="1227" y="506.5" textLength="30.2" lengthAdjust="spacingAndGlyphs">1140.0</text>
<text x="1227" y="545.6" textLength="30.2" lengthAdjust="spacingAndGlyphs">1120.0</text>
<text x="1227" y="575.5" textLength="30.2" lengthAdjust="spacingAndGlyphs">1105.0</text>
<text x="1227" y="607.7" textLength="30.2" lengthAdjust="spacingAndGlyphs">1089.0</text>
<text x="1227" y="640.4" textLength="30.2" lengthAdjust="spacingAndGlyphs">1073.0</text>
<text x="1227" y="673.7" textLength="30.2" lengthAdjust="spacingAndGlyphs">1057.0</text>
<text x="1227" y="700.0" textLength="30.2" lengthAdjust="spacingAndGlyphs">1044.5</text>
<text x="1227" y="726.6" textLength="30.2" lengthAdjust="spacingAndGlyphs">1032.0</text>
<text x="1227" y="756.8" textLength="30.2" lengthAdjust="spacingAndGlyphs">1018.0</text>
<text x="1227" y="783.0" textLength="30.2" lengthAdjust="spacingAndGlyphs">1006.0</text>
<text x="1227" y="809.5" textLength="25.3" lengthAdjust="spacingAndGlyphs">994.0</text>
<text x="1227" y="836.4" textLength="25.3" lengthAdjust="spacingAndGlyphs">982.0</text>
</g>
<path d="M1218 79.0H1260.8a2 2 0 0 1 2 2V91.4a2 2 0 0 1 -2 2H1218Z" fill="#e83a52"/>
<text class="pl" x="1227" y="90.2" textLength="30.6" lengthAdjust="spacingAndGlyphs">1376.5</text>
<path d="M1218 131.4H1260.8a2 2 0 0 1 2 2V143.8a2 2 0 0 1 -2 2H1218Z" fill="#e83a52"/>
<text class="pl" x="1227" y="142.6" textLength="30.6" lengthAdjust="spacingAndGlyphs">1343.9</text>
<path d="M1218 433.5H1260.8a2 2 0 0 1 2 2V445.9a2 2 0 0 1 -2 2H1218Z" fill="#3aa595"/>
<text class="pl" x="1227" y="444.7" textLength="30.6" lengthAdjust="spacingAndGlyphs">1172.7</text>
<rect x="1226" y="6.6" width="32.5" height="17.6" rx="3" fill="#fff" stroke="#e0e2e7" stroke-width="1"/>
<text class="ax" x="1230.2" y="19.4" textLength="17.6" lengthAdjust="spacingAndGlyphs">USD</text>
<path d="M1250.8 13.6l2.1 2.1 2.1-2.1" fill="none" stroke="#434651" stroke-width="1.4"/>
<text class="tm" x="17" y="861.7">Lip</text>
<text class="tm" x="105" y="861.7">Sie</text>
<text class="tm" x="194.5" y="861.7">Wrz</text>
<text class="tm" x="283" y="861.7">Paź</text>
<text class="tm" x="368" y="861.7">Lis</text>
<text class="tm" x="457" y="861.7">Gru</text>
<text class="tm" x="545.5" y="861.7" style="font-weight:bold">2011</text>
<text class="tm" x="630" y="861.7">Lut</text>
<text class="tm" x="711" y="861.7">Mrz.</text>
<text class="tm" x="804.5" y="861.7">Kwi</text>
<text class="tm" x="885" y="861.7">Maj</text>
<text class="tm" x="974" y="861.7">Cze</text>
<text class="tm" x="1063" y="861.7">Lip</text>
<text class="tm" x="1148" y="861.7">Sie</text>
<g stroke="#434651" stroke-width="1.2" fill="none"><circle cx="1242.4" cy="858.6" r="4.2"/>
<path d="M1246.80 858.60L1249.00 858.60"/>
<path d="M1245.51 861.71L1247.07 863.27"/>
<path d="M1242.40 863.00L1242.40 865.20"/>
<path d="M1239.29 861.71L1237.73 863.27"/>
<path d="M1238.00 858.60L1235.80 858.60"/>
<path d="M1239.29 855.49L1237.73 853.93"/>
<path d="M1242.40 854.20L1242.40 852.00"/>
<path d="M1245.51 855.49L1247.07 853.93"/>
</g>
<defs><filter id="sh" x="-50%" y="-50%" width="200%" height="200%"><feDropShadow dx="0" dy="1" stdDeviation="1.5" flood-color="#000" flood-opacity="0.18"/></filter></defs>
<circle cx="1192" cy="806" r="12" fill="#fff" filter="url(#sh)"/>
<path d="M1188 801.2l4.2 4.8-4.2 4.8M1192.6 801.2l4.2 4.8-4.2 4.8" fill="none" stroke="#434651" stroke-width="1.4"/>
<text class="hd" x="3.4" y="20.1" textLength="39.2" lengthAdjust="spacingAndGlyphs">Indeks</text>
<text class="hd" x="46.2" y="20.1" textLength="24.4" lengthAdjust="spacingAndGlyphs">S&amp;P</text>
<text class="hd" x="75.5" y="20.1" textLength="20" lengthAdjust="spacingAndGlyphs">500</text>
<text class="hd" x="107.3" y="20.1" textLength="14.8" lengthAdjust="spacingAndGlyphs">1D</text>
<text class="hd" x="132.5" y="20.1" textLength="43.2" lengthAdjust="spacingAndGlyphs">OANDA</text>
<text class="hd" x="186.3" y="20.1" textLength="74.5" lengthAdjust="spacingAndGlyphs">TradingView</text>
<text x="101.5" y="20.1" style="font-size:13.5px;fill:#a9acb6;text-anchor:middle">·</text>
<text x="127.2" y="20.1" style="font-size:13.5px;fill:#a9acb6;text-anchor:middle">·</text>
<text x="180.6" y="20.1" style="font-size:13.5px;fill:#a9acb6;text-anchor:middle">·</text>
<path d="M270.6 10H281L277.6 15.2L281 20.4H270.6Z" fill="#3d6eff"/>
<circle cx="305" cy="14.8" r="7.7" fill="#eeeff2"/>
<path d="M302.1 14.8H307.9" stroke="#868993" stroke-width="2.5" stroke-linecap="round"/>
</svg></body></html>
